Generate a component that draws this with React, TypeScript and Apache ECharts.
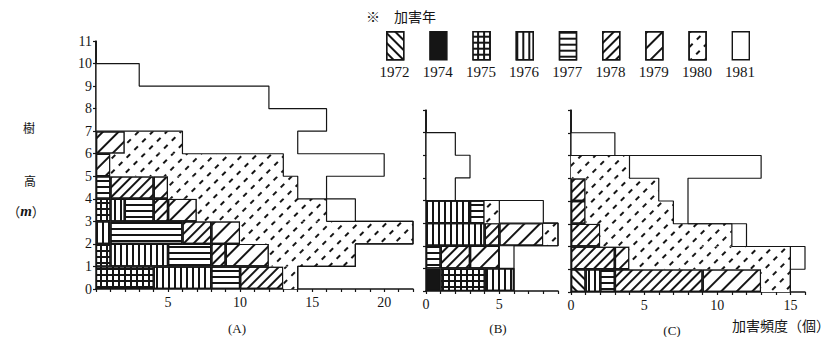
import React, { useEffect, useRef } from "react";
import * as echarts from "echarts";

// Years (legend order)
const years = ["1972", "1974", "1975", "1976", "1977", "1978", "1979", "1980", "1981"];

// Height classes (m), bottom to top
const classesA = ["0-1", "1-2", "2-3", "3-4", "4-5", "5-6", "6-7", "7-8", "8-9", "9-10", "10-11"];
const classesBC = ["0-1", "1-2", "2-3", "3-4", "4-5", "5-6", "6-7", "7-8"];

// Panel (A): damage counts per height class, by year
const a1972 = [0, 0, 0, 0, 0, 0, 0, 0, 0, 0, 0];
const a1974 = [0, 0, 0, 0, 0, 0, 0, 0, 0, 0, 0];
const a1975 = [4, 1, 0, 1, 0, 0, 0, 0, 0, 0, 0];
const a1976 = [4, 4, 1, 1, 0, 0, 0, 0, 0, 0, 0];
const a1977 = [2, 3, 5, 2, 1, 0, 0, 0, 0, 0, 0];
const a1978 = [3, 1, 2, 1, 3, 0, 0, 0, 0, 0, 0];
const a1979 = [0, 3, 2, 2, 1, 1, 2, 0, 0, 0, 0];
const a1980 = [1, 6, 12, 9, 9, 12, 4, 0, 0, 0, 0];
const a1981 = [0, 0, 0, 2, 2, 7, 8, 16, 12, 3, 0];

// Panel (B)
const b1972 = [0, 0, 0, 0, 0, 0, 0, 0];
const b1974 = [1, 0, 0, 0, 0, 0, 0, 0];
const b1975 = [3, 0, 0, 0, 0, 0, 0, 0];
const b1976 = [2, 0, 4, 3, 0, 0, 0, 0];
const b1977 = [0, 1, 0, 1, 0, 0, 0, 0];
const b1978 = [0, 2, 1, 0, 0, 0, 0, 0];
const b1979 = [0, 2, 3, 0, 0, 0, 0, 0];
const b1980 = [0, 0, 1, 1, 0, 0, 0, 0];
const b1981 = [0, 1, 0, 3, 2, 3, 2, 0];

// Panel (C)
const c1972 = [1, 0, 0, 0, 0, 0, 0, 0];
const c1974 = [0, 0, 0, 0, 0, 0, 0, 0];
const c1975 = [0, 0, 0, 0, 0, 0, 0, 0];
const c1976 = [1, 0, 0, 0, 0, 0, 0, 0];
const c1977 = [1, 0, 0, 0, 0, 0, 0, 0];
const c1978 = [6, 3, 2, 1, 1, 0, 0, 0];
const c1979 = [4, 1, 0, 0, 0, 0, 0, 0];
const c1980 = [2, 11, 9, 6, 5, 4, 0, 0];
const c1981 = [0, 1, 1, 1, 2, 9, 3, 0];

// Axis settings
const xMaxA = 22;
const xMaxB = 9;
const xMaxC = 16;
const yTicksA = ["0", "1", "2", "3", "4", "5", "6", "7", "8", "9", "10", "11"];

const panelA = [a1972, a1974, a1975, a1976, a1977, a1978, a1979, a1980, a1981];
const panelB = [b1972, b1974, b1975, b1976, b1977, b1978, b1979, b1980, b1981];
const panelC = [c1972, c1974, c1975, c1976, c1977, c1978, c1979, c1980, c1981];

const INK = "#151515";
const SERIF = "'Liberation Serif', 'DejaVu Serif', serif";
const CJK = "'Noto Sans CJK JP', sans-serif";

// years whose blocks merge into one outlined region (no inner row borders)
const mergedYears = ["1980", "1981"];

const decalFor = (year: string): any => {
  const base = { symbol: "rect", symbolSize: 1, symbolKeepAspect: false, color: INK };
  switch (year) {
    case "1972":
      return { ...base, dashArrayX: [10, 0], dashArrayY: [1.6, 4.2], rotation: Math.PI / 4 };
    case "1975":
      return { ...base, color: "#fff", dashArrayX: [3.4, 1.1], dashArrayY: [3.4, 1.1] };
    case "1976":
      return { ...base, dashArrayX: [1.2, 3.4], dashArrayY: [10, 0] };
    case "1977":
      return { ...base, dashArrayX: [10, 0], dashArrayY: [1.2, 4] };
    case "1978":
      return { ...base, dashArrayX: [10, 0], dashArrayY: [1.4, 4.2], rotation: -Math.PI / 4 };
    case "1979":
      return { ...base, dashArrayX: [10, 0], dashArrayY: [1.2, 8.5], rotation: -Math.PI / 4 };
    case "1980":
      return { ...base, dashArrayX: [5, 6], dashArrayY: [1.2, 8], rotation: -Math.PI / 4 };
    default:
      return null;
  }
};

const fillFor = (year: string) => (year === "1974" || year === "1975" ? INK : "#fff");

// staircase outline of cumulative sums of the first `upto` year-series
const stairs = (panel: number[][], upto: number) => {
  const n = panel[0].length;
  const pts: number[][] = [];
  for (let r = 0; r < n; r++) {
    let t = 0;
    for (let k = 0; k < upto; k++) t += panel[k][r];
    pts.push([t, r], [t, r + 1]);
  }
  pts.push([0, n]);
  return pts;
};

export default function App() {
  const ref = useRef<HTMLDivElement>(null);

  useEffect(() => {
    if (!ref.current) return;
    const chart = echarts.init(ref.current, null, { renderer: "svg" });

    const panels = [
      { data: panelA, xAxisIndex: 0, yAxisIndex: 0, yValIndex: 1, stack: "A" },
      { data: panelB, xAxisIndex: 1, yAxisIndex: 2, yValIndex: 4, stack: "B" },
      { data: panelC, xAxisIndex: 2, yAxisIndex: 3, yValIndex: 5, stack: "C" },
    ];

    const series: any[] = [];
    panels.forEach((p) => {
      years.forEach((yr, i) => {
        const decal = decalFor(yr);
        series.push({
          type: "bar",
          name: yr,
          stack: p.stack,
          xAxisIndex: p.xAxisIndex,
          yAxisIndex: p.yAxisIndex,
          barCategoryGap: "0%",
          barGap: "0%",
          data: p.data[i].map((v) => (v === 0 ? "-" : v)),
          itemStyle: {
            color: fillFor(yr),
            borderColor: INK,
            borderWidth: mergedYears.includes(yr) ? 0 : 1.2,
            ...(decal ? { decal } : {}),
          },
          emphasis: { disabled: true },
          silent: true,
        });
      });
      // outlines: 1980/1981 boundary and outer edge
      [years.length - 1, years.length].forEach((upto) => {
        series.push({
          type: "line",
          xAxisIndex: p.xAxisIndex,
          yAxisIndex: p.yValIndex,
          data: stairs(p.data, upto),
          symbol: "none",
          lineStyle: { color: INK, width: 1.2 },
          z: 5,
          silent: true,
          emphasis: { disabled: true },
        });
      });
    });

    const boxW = 17;
    const boxLeft0 = 386;
    const boxStep = 43.2;

    const legends = years.map((yr, i) => ({
      show: true,
      data: [yr],
      left: boxLeft0 + i * boxStep,
      top: 31,
      padding: 0,
      itemWidth: boxW,
      itemHeight: 28,
      icon: "rect",
      selectedMode: false,
      formatter: () => "",
      itemStyle: { borderColor: INK, borderWidth: 1.4 },
      textStyle: { fontSize: 1 },
    }));

    const yearTexts = years.map((yr, i) => ({
      type: "text",
      x: boxLeft0 + i * boxStep + boxW / 2,
      y: 72,
      style: {
        text: yr,
        fill: INK,
        font: `15px ${SERIF}`,
        align: "center",
        verticalAlign: "middle",
      },
    }));

    const catAxis = (gridIndex: number, cats: string[]) => ({
      type: "category",
      gridIndex,
      data: cats,
      boundaryGap: true,
      axisLine: { show: true, lineStyle: { color: INK, width: 1.5 } },
      axisTick: { show: true, length: 3, lineStyle: { color: INK, width: 1.2 } },
      axisLabel: { show: false },
      splitLine: { show: false },
    });

    const hiddenVal = (gridIndex: number, max: number) => ({
      type: "value",
      gridIndex,
      min: 0,
      max,
      interval: 1,
      show: false,
    });

    const valX = (gridIndex: number, max: number, showZero: boolean) => ({
      type: "value",
      gridIndex,
      min: 0,
      max,
      interval: 1,
      axisLine: { show: true, lineStyle: { color: INK, width: 1.5 } },
      axisTick: { show: true, length: 3, lineStyle: { color: INK, width: 1.2 } },
      axisLabel: {
        show: true,
        color: INK,
        fontFamily: SERIF,
        fontSize: 14,
        margin: 6,
        formatter: (v: number) => (v % 5 === 0 && (v > 0 || showZero) ? String(v) : ""),
      },
      splitLine: { show: false },
    });

    chart.setOption({
      animation: false,
      backgroundColor: "#fff",
      grid: [
        { left: 96, top: 41, width: 317, height: 248 },
        { left: 426, top: 110, width: 132, height: 181 },
        { left: 571, top: 110, width: 234, height: 182 },
      ],
      xAxis: [valX(0, xMaxA, false), valX(1, xMaxB, true), valX(2, xMaxC, true)],
      yAxis: [
        catAxis(0, classesA),
        {
          type: "value",
          gridIndex: 0,
          min: 0,
          max: yTicksA.length - 1,
          interval: 1,
          position: "left",
          axisLine: { show: false },
          axisTick: { show: false },
          splitLine: { show: false },
          axisLabel: {
            color: INK,
            fontFamily: SERIF,
            fontSize: 14,
            margin: 4,
            formatter: (v: number) => yTicksA[v] ?? "",
          },
        },
        catAxis(1, classesBC),
        catAxis(2, classesBC),
        hiddenVal(1, classesBC.length),
        hiddenVal(2, classesBC.length),
      ],
      legend: legends,
      series,
      graphic: [
        {
          type: "text",
          x: 366,
          y: 16,
          style: { text: "※　加害年", fill: INK, font: `14px ${CJK}`, verticalAlign: "middle" },
        },
        ...yearTexts,
        { type: "text", x: 29, y: 127, style: { text: "樹", fill: INK, font: `12px ${CJK}`, align: "center", verticalAlign: "middle" } },
        { type: "text", x: 30, y: 180, style: { text: "高", fill: INK, font: `12px ${CJK}`, align: "center", verticalAlign: "middle" } },
        {
          type: "text",
          x: 26,
          y: 211,
          style: {
            text: "{p|（}{m|m}{p|）}",
            align: "center",
            verticalAlign: "middle",
            rich: {
              p: { fill: INK, font: `13px ${CJK}` },
              m: { fill: INK, font: `italic bold 15px ${SERIF}` },
            },
          },
        },
        { type: "text", x: 237, y: 328, style: { text: "(A)", fill: INK, font: `13px ${SERIF}`, align: "center", verticalAlign: "middle" } },
        { type: "text", x: 498, y: 328, style: { text: "(B)", fill: INK, font: `13px ${SERIF}`, align: "center", verticalAlign: "middle" } },
        { type: "text", x: 672, y: 330, style: { text: "(C)", fill: INK, font: `13px ${SERIF}`, align: "center", verticalAlign: "middle" } },
        { type: "text", x: 781, y: 325, style: { text: "加害頻度（個）", fill: INK, font: `14px ${CJK}`, align: "center", verticalAlign: "middle" } },
      ],
    });

    return () => chart.dispose();
  }, []);

  return (
    <div
      ref={ref}
      style={{ position: "fixed", left: 0, top: 0, width: 832, height: 337, background: "#fff" }}
    />
  );
}
